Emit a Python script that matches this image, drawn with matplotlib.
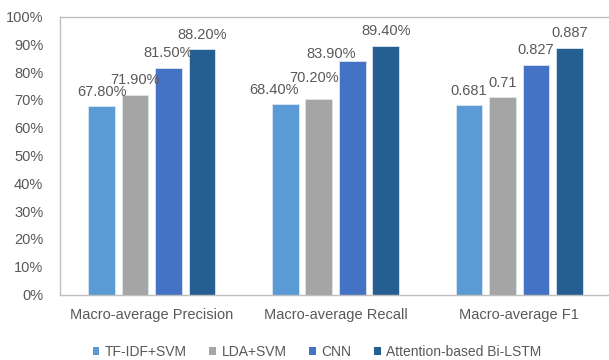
import matplotlib
matplotlib.use("Agg")
import matplotlib.pyplot as plt
from matplotlib.patches import Patch
from matplotlib.ticker import PercentFormatter
import numpy as np

plt.rcParams["font.family"] = ["Liberation Sans", "DejaVu Sans"]

categories = ["Macro-average Precision", "Macro-average Recall", "Macro-average F1"]
models = ["TF-IDF+SVM", "LDA+SVM", "CNN", "Attention-based Bi-LSTM"]
colors = ["#5B9BD5", "#A5A5A5", "#4472C4", "#255E91"]

# one list per model, in category order
tfidf_svm = [0.678, 0.684, 0.681]
lda_svm = [0.719, 0.702, 0.710]
cnn = [0.815, 0.839, 0.827]
att_bilstm = [0.882, 0.894, 0.887]

tfidf_labels = ["67.80%", "68.40%", "0.681"]
lda_labels = ["71.90%", "70.20%", "0.71"]
cnn_labels = ["81.50%", "83.90%", "0.827"]
att_labels = ["88.20%", "89.40%", "0.887"]

series = [tfidf_svm, lda_svm, cnn, att_bilstm]
series_labels = [tfidf_labels, lda_labels, cnn_labels, att_labels]

y_ticks = np.arange(0, 1.01, 0.1)

W, H = 609, 360
PT = 0.72  # points per pixel at 100 dpi

# hand-placed data labels in the Recall group: (model index, category index) -> (dx, gap) in px
label_nudges = {(0, 1): (-11, 10.5), (1, 1): (-5, 17), (2, 1): (-21, 3.5)}
default_gap = 10.5

fig = plt.figure(figsize=(W / 100, H / 100), dpi=100)
ax = fig.add_axes([60 / W, 1 - 294.5 / H, 551 / W, (294.5 - 16.5) / H])

text_color = "#595959"
x = np.arange(len(categories))
bar_w = 0.145
step = 0.182
offsets = (np.arange(len(models)) - 1.5) * step

for i, (vals, labs, off, col, name) in enumerate(zip(series, series_labels, offsets, colors, models)):
    bars = ax.bar(x + off, vals, width=bar_w, color=col, label=name,
                  edgecolor="#DDE6F0", linewidth=0.6)
    for j, (b, lab) in enumerate(zip(bars, labs)):
        dx, gap = label_nudges.get((i, j), (0, default_gap))
        ax.annotate(lab, (b.get_x() + b.get_width() / 2, b.get_height()),
                    xytext=(dx * PT, gap * PT), textcoords="offset points",
                    ha="center", va="baseline", fontsize=10.5, color=text_color)

ax.set_xlim(-0.5, 2.5)
ax.set_ylim(0, 1.0)
ax.set_yticks(y_ticks)
ax.yaxis.set_major_formatter(PercentFormatter(1.0, decimals=0))
ax.set_xticks(x)
ax.set_xticklabels(categories)
ax.tick_params(axis="both", length=0, labelsize=10.5, labelcolor=text_color)
ax.tick_params(axis="x", pad=10)
ax.tick_params(axis="y", pad=12)

for s in ["left", "top", "bottom", "right"]:
    ax.spines[s].set_color("#BFBFBF")
    ax.spines[s].set_linewidth(1.0)

handles = [Patch(facecolor=c, label=m) for c, m in zip(colors, models)]
fig.legend(handles=handles, loc="center", bbox_to_anchor=(317 / W, 1 - 352 / H),
           ncol=4, frameon=False, fontsize=10, handlelength=0.5, handleheight=0.5,
           handletextpad=0.4, columnspacing=1.6, labelcolor=text_color,
           borderpad=0, borderaxespad=0)

fig.savefig("out.png", dpi=100, facecolor="white")
